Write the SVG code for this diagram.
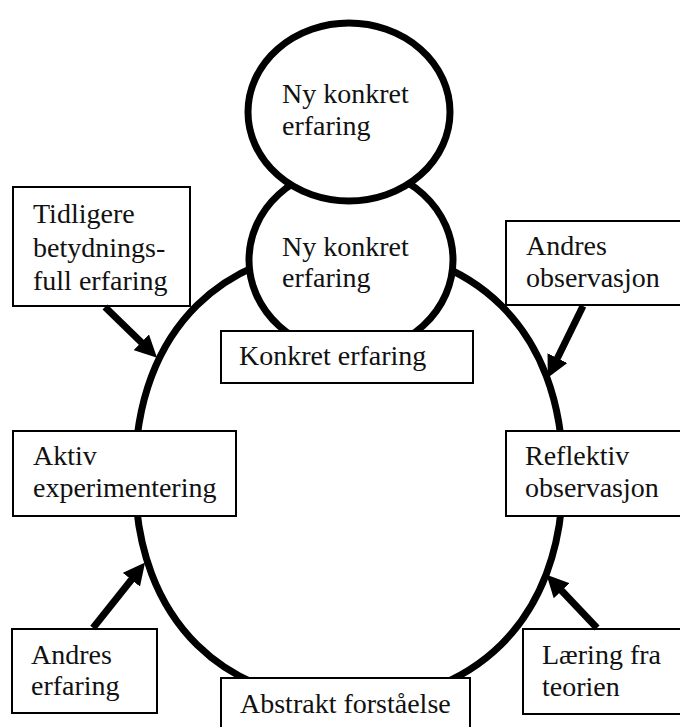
<svg xmlns="http://www.w3.org/2000/svg" width="680" height="727" viewBox="0 0 680 727">
<style>
.ring{fill:#fff;stroke:#000;stroke-width:7}
.box{fill:#fff;stroke:#000;stroke-width:2}
.t{font-size:28px;fill:#111}
.arr{stroke:#000;stroke-width:7;fill:none;marker-end:url(#ah)}
</style>
<defs>
<marker id="ah" markerUnits="userSpaceOnUse" markerWidth="22" markerHeight="22" viewBox="0 0 22 22" refX="1" refY="11" orient="auto">
<path d="M0,0 L22,11 L0,22 z" fill="#000"/>
</marker>
</defs>
<rect width="680" height="727" fill="#fff"/>
<g font-family="Liberation Serif, Times New Roman, DejaVu Serif, serif">
<g id="big-cycle">
<path class="ring" d="M349 248 C229 248 135 325 135 475 C135 625 229 702 349 702 C469 702 563 625 563 475 C563 325 469 248 349 248 Z"/>
</g>
<g id="ny-konkret-2">
<ellipse class="ring" cx="351" cy="260" rx="102" ry="93"/>
<text class="t" x="282" y="256">Ny konkret</text>
<text class="t" x="282" y="287">erfaring</text>
</g>
<g id="ny-konkret-1">
<ellipse class="ring" cx="349" cy="112" rx="101" ry="89"/>
<text class="t" x="282" y="103">Ny konkret</text>
<text class="t" x="282" y="135">erfaring</text>
</g>
<g id="konkret-erfaring">
<rect class="box" x="221" y="331" width="252" height="52"/>
<text class="t" x="239" y="365">Konkret erfaring</text>
</g>
<g id="tidligere">
<rect class="box" x="13" y="187" width="177" height="119"/>
<text class="t" x="33" y="223">Tidligere</text>
<text class="t" x="33" y="257">betydnings-</text>
<text class="t" x="33" y="290">full erfaring</text>
</g>
<g id="andres-observasjon">
<rect class="box" x="506" y="221" width="185" height="84"/>
<text class="t" x="526" y="255">Andres</text>
<text class="t" x="526" y="287">observasjon</text>
</g>
<g id="aktiv">
<rect class="box" x="13" y="431" width="223" height="85"/>
<text class="t" x="33" y="465">Aktiv</text>
<text class="t" x="33" y="497">experimentering</text>
</g>
<g id="reflektiv">
<rect class="box" x="506" y="431" width="185" height="85"/>
<text class="t" x="525" y="465">Reflektiv</text>
<text class="t" x="525" y="497">observasjon</text>
</g>
<g id="andres-erfaring">
<rect class="box" x="12" y="629" width="145" height="84"/>
<text class="t" x="31" y="664">Andres</text>
<text class="t" x="31" y="695">erfaring</text>
</g>
<g id="abstrakt">
<rect class="box" x="221" y="678" width="249" height="70"/>
<text class="t" x="240" y="713">Abstrakt forståelse</text>
</g>
<g id="laering">
<rect class="box" x="523" y="629" width="170" height="85"/>
<text class="t" x="542" y="664">Læring fra</text>
<text class="t" x="542" y="696">teorien</text>
</g>
</g>
<g id="connectors">
<line class="arr" x1="105" y1="307" x2="142" y2="343"/>
<line class="arr" x1="583" y1="306" x2="557" y2="359"/>
<line class="arr" x1="93" y1="628" x2="132" y2="579"/>
<line class="arr" x1="597" y1="628" x2="561" y2="590"/>
</g>
</svg>
